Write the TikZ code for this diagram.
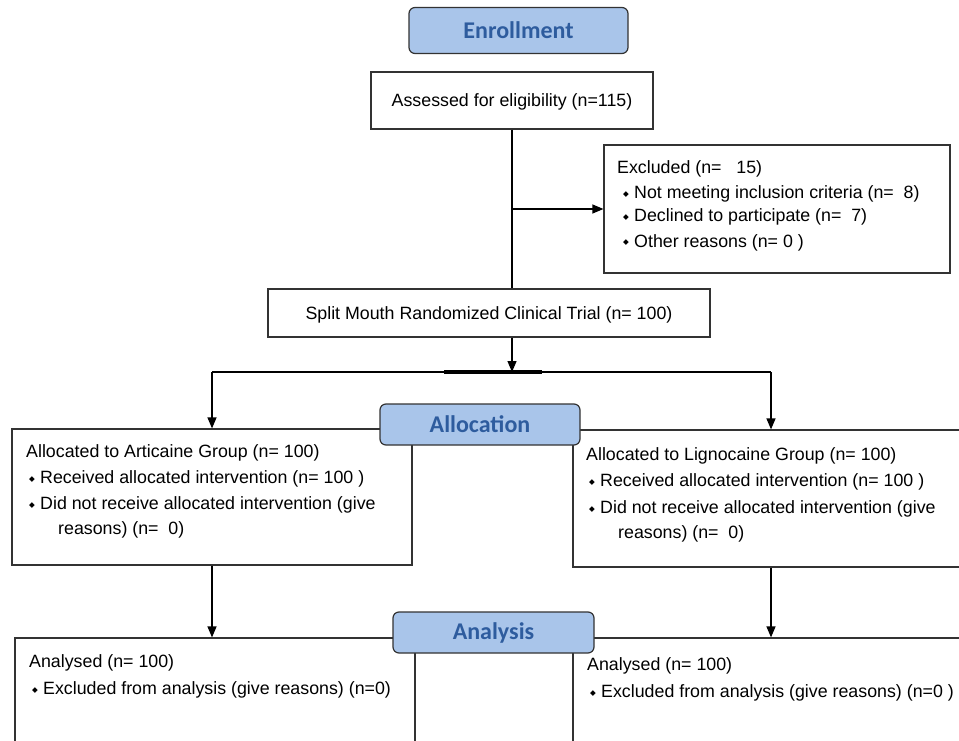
\documentclass[tikz,border=0pt]{standalone}
\usepackage{fontspec}
\setmainfont{Liberation Sans}
\newfontfamily\hdrfont{Carlito}
\newfontfamily\symfont{DejaVu Sans}
\usetikzlibrary{arrows.meta}
\definecolor{hdrfill}{HTML}{A9C5EA}
\definecolor{hdrtext}{HTML}{2E5C9E}
\definecolor{edge}{HTML}{333333}
\newcommand{\bul}{\makebox[11pt][l]{\raisebox{2pt}{\symfont\fontsize{7.5}{7.5}\selectfont ◆}}}

\begin{document}
\begin{tikzpicture}[x=1pt,y=-1pt,
 box/.style={draw=edge, line width=1.2pt, inner sep=0pt, fill=white},
 hdr/.style={draw=edge, line width=1.2pt, fill=hdrfill, rounded corners=6pt, inner sep=0pt,
   font=\hdrfont\bfseries\fontsize{24}{24}\selectfont, text=hdrtext},
 txt/.style={anchor=base west, inner sep=0pt, font=\fontsize{17.8}{20}\selectfont},
 ctxt/.style={anchor=base, inner sep=0pt, font=\fontsize{17.8}{20}\selectfont},
 conn/.style={draw=black, line width=1.3pt},
 arr/.style={conn, -{Triangle[length=11pt,width=9pt]}},
 barline/.style={draw=black, line width=3.4pt},
]
\useasboundingbox[fill=white] (0,0) rectangle (959,741);

% boxes
\node[box, minimum width=282pt, minimum height=57pt] (assess) at (512,100.5) {};
\node[box, minimum width=346pt, minimum height=128pt] (excl) at (777,209) {};
\node[box, minimum width=442pt, minimum height=48pt] (split) at (489,313) {};
\node[box, minimum width=400pt, minimum height=136pt] (allocL) at (212,497) {};
\node[box, minimum width=402pt, minimum height=137pt] (allocR) at (774,498.5) {};
\node[box, minimum width=400pt, minimum height=122pt] (anaL) at (215,699) {};
\node[box, minimum width=402pt, minimum height=122pt] (anaR) at (774,699) {};

% header boxes
\node[hdr, minimum width=219pt, minimum height=46pt] (enroll) at (518.5,30.5) {Enrollment};
\node[hdr, minimum width=200pt, minimum height=41pt] (allochdr) at (480,424.5) {Allocation};
\node[hdr, minimum width=201pt, minimum height=41pt] (anahdr) at (493.5,632.5) {Analysis};

% texts
\node[ctxt] (t-assess) at (512,107) {Assessed for eligibility (n=115)};
\node[txt] (t-ex0) at (617,174) {Excluded (n=\ \ \ 15)};
\node[txt] (t-ex1) at (623,199) {\bul Not meeting inclusion criteria (n=\ \ 8)};
\node[txt] (t-ex2) at (623,222) {\bul Declined to participate (n=\ \ 7)};
\node[txt] (t-ex3) at (623,247) {\bul Other reasons (n= 0 )};
\node[ctxt] (t-split) at (489,319) {Split Mouth Randomized Clinical Trial (n= 100)};

\node[txt] (t-aL0) at (26,457) {Allocated to Articaine Group (n= 100)};
\node[txt] (t-aL1) at (29,483) {\bul Received allocated intervention (n= 100 )};
\node[txt] (t-aL2) at (29,509) {\bul Did not receive allocated intervention (give};
\node[txt] (t-aL3) at (58,534) {reasons) (n=\ \ 0)};

\node[txt] (t-aR0) at (586,460) {Allocated to Lignocaine Group (n= 100)};
\node[txt] (t-aR1) at (589,486) {\bul Received allocated intervention (n= 100 )};
\node[txt] (t-aR2) at (589,513) {\bul Did not receive allocated intervention (give};
\node[txt] (t-aR3) at (618,538) {reasons) (n=\ \ 0)};

\node[txt] (t-nL0) at (29,667) {Analysed (n= 100)};
\node[txt] (t-nL1) at (32,694) {\bul Excluded from analysis (give reasons) (n=0)};
\node[txt] (t-nR0) at (587,670) {Analysed (n= 100)};
\node[txt] (t-nR1) at (590,697) {\bul Excluded from analysis (give reasons) (n=0 )};

% connectors
\coordinate (jC) at (512,372);
\coordinate (jL) at (212,372);
\coordinate (jR) at (771,372);
\coordinate (bL) at (444,372);
\coordinate (bR) at (542,372);
\draw[conn] (assess.south) -- (assess.south |- split.north);
\draw[arr] (assess.south |- excl.west) -- (excl.west);
\draw[conn] (jL) -- (jR);
\draw[barline] (bL) -- (bR);
\draw[arr] (split.south -| jC) -- (jC);
\draw[arr] (jL) -- (jL |- allocL.north);
\draw[arr] (jR) -- (jR |- allocR.north);
\draw[arr] (allocL.south -| jL) -- (jL |- anaL.north);
\draw[arr] (allocR.south -| jR) -- (jR |- anaR.north);
\end{tikzpicture}
\end{document}
